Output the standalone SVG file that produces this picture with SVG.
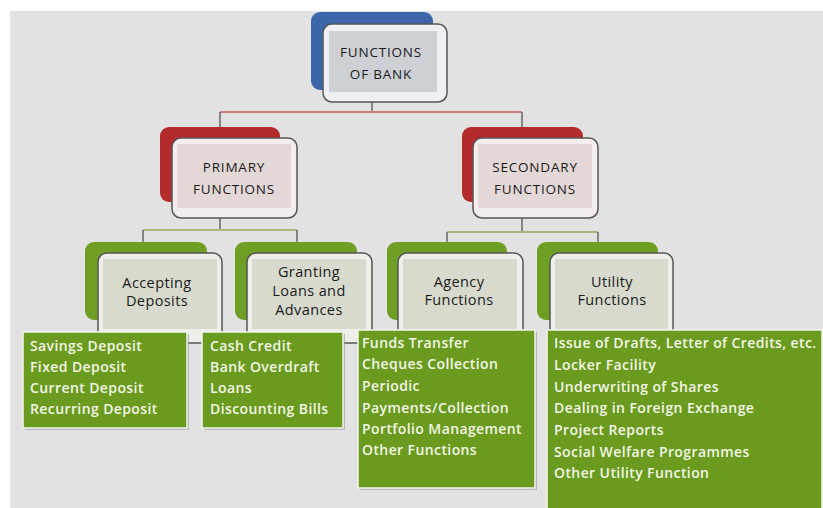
<svg xmlns="http://www.w3.org/2000/svg" width="823" height="508" viewBox="0 0 823 508">
<defs>
<style>
.bg{fill:#e2e2e2}
.lbl{font-family:"Open Sans","Liberation Sans",sans-serif;font-size:14.5px;fill:#1a1a1a;text-anchor:middle;letter-spacing:0.4px}
.cap{font-family:"Open Sans","Liberation Sans",sans-serif;font-size:13.5px;fill:#1a1a1a;text-anchor:middle;letter-spacing:0.8px}
.item{font-family:"Open Sans","Liberation Sans",sans-serif;font-size:14px;font-weight:600;fill:#f3f6e6;letter-spacing:0.4px}
.frame{stroke:#555;stroke-width:1.5}
.tbl{fill:#6a9a1e;stroke:#f4f4f0;stroke-width:1.5}
.tshadow{fill:#9a9a9a;opacity:0.6}
.red-line{stroke:#c98080;stroke-width:2;fill:none}
.grn-line{stroke:#a7b97a;stroke-width:2;fill:none}
.tick{stroke:#555;stroke-width:1.3;fill:none}
</style>
</defs>
<rect x="0" y="0" width="823" height="508" fill="#ffffff"/>
<rect class="bg" x="10" y="11" width="813" height="497"/>

<g id="connectors">
<path class="tick" d="M372,102 V112"/>
<path class="red-line" d="M220,112 H522"/>
<path class="tick" d="M220,112 V127 M522,112 V127"/>
<path class="tick" d="M220,218 V230 M522,218 V232"/>
<path class="grn-line" d="M143,230 H297 M447,232 H598"/>
<path class="tick" d="M143,230 V242 M297,230 V242 M447,232 V242 M598,232 V242"/>
</g>

<g id="node-bank">
<rect x="311" y="12" width="122" height="78" rx="9" fill="#3d66aa"/>
<rect class="frame" x="323" y="24" width="124" height="78" rx="9" fill="#eef0f3"/>
<rect x="329" y="31" width="108" height="61" fill="#cdd1d6"/>
<text class="cap" x="381" y="57">FUNCTIONS</text>
<text class="cap" x="381" y="79">OF BANK</text>
</g>

<g id="node-primary">
<rect x="160" y="127" width="120" height="75" rx="9" fill="#b42b2b"/>
<rect class="frame" x="172" y="138" width="125" height="80" rx="9" fill="#f4eded"/>
<rect x="177" y="144" width="114" height="64" fill="#e4d7d7"/>
<text class="cap" x="234" y="172">PRIMARY</text>
<text class="cap" x="234" y="194">FUNCTIONS</text>
</g>

<g id="node-secondary">
<rect x="462" y="127" width="121" height="75" rx="9" fill="#b42b2b"/>
<rect class="frame" x="473" y="138" width="125" height="80" rx="9" fill="#f4eded"/>
<rect x="478" y="144" width="114" height="64" fill="#e4d7d7"/>
<text class="cap" x="535" y="172">SECONDARY</text>
<text class="cap" x="535" y="194">FUNCTIONS</text>
</g>

<g id="node-accepting">
<rect x="85" y="242" width="122" height="78" rx="9" fill="#6f9e24"/>
<rect class="frame" x="98" y="253" width="124" height="90" rx="9" fill="#eeefe8"/>
<rect x="103" y="259" width="114" height="70" fill="#d8dacd"/>
<text class="lbl" x="157" y="288">Accepting</text>
<text class="lbl" x="157" y="306">Deposits</text>
</g>

<g id="node-granting">
<rect x="235" y="242" width="122" height="78" rx="9" fill="#6f9e24"/>
<rect class="frame" x="247" y="253" width="125" height="90" rx="9" fill="#eeefe8"/>
<rect x="252" y="259" width="114" height="70" fill="#d8dacd"/>
<text class="lbl" x="309" y="277">Granting</text>
<text class="lbl" x="309" y="296">Loans and</text>
<text class="lbl" x="309" y="315">Advances</text>
</g>

<g id="node-agency">
<rect x="387" y="242" width="120" height="78" rx="9" fill="#6f9e24"/>
<rect class="frame" x="398" y="253" width="125" height="90" rx="9" fill="#eeefe8"/>
<rect x="403" y="259" width="114" height="70" fill="#d8dacd"/>
<text class="lbl" x="459" y="287">Agency</text>
<text class="lbl" x="459" y="305">Functions</text>
</g>

<g id="node-utility">
<rect x="537" y="242" width="121" height="78" rx="9" fill="#6f9e24"/>
<rect class="frame" x="550" y="253" width="123" height="90" rx="9" fill="#eeefe8"/>
<rect x="555" y="259" width="113" height="70" fill="#d8dacd"/>
<text class="lbl" x="612" y="287">Utility</text>
<text class="lbl" x="612" y="305">Functions</text>
</g>

<g id="list-deposits">
<rect class="tshadow" x="25" y="334" width="164" height="96"/>
<rect class="tbl" x="23" y="332" width="164" height="96"/>
<text class="item" x="30" y="351">Savings Deposit</text>
<text class="item" x="30" y="372">Fixed Deposit</text>
<text class="item" x="30" y="393">Current Deposit</text>
<text class="item" x="30" y="414">Recurring Deposit</text>
</g>

<g id="list-loans">
<rect class="tshadow" x="204" y="334" width="141" height="96"/>
<rect class="tbl" x="202" y="332" width="141" height="96"/>
<text class="item" x="210" y="351">Cash Credit</text>
<text class="item" x="210" y="372">Bank Overdraft</text>
<text class="item" x="210" y="393">Loans</text>
<text class="item" x="210" y="414">Discounting Bills</text>
</g>

<g id="list-agency">
<rect class="tshadow" x="360" y="332" width="177" height="158"/>
<rect class="tbl" x="358" y="330" width="177" height="158"/>
<text class="item" x="362" y="348">Funds Transfer</text>
<text class="item" x="362" y="369">Cheques Collection</text>
<text class="item" x="362" y="391">Periodic</text>
<text class="item" x="362" y="413">Payments/Collection</text>
<text class="item" x="362" y="434">Portfolio Management</text>
<text class="item" x="362" y="455">Other Functions</text>
</g>

<g id="list-utility">
<rect class="tbl" x="547" y="330" width="275" height="180"/>
<text class="item" x="554" y="348">Issue of Drafts, Letter of Credits, etc.</text>
<text class="item" x="554" y="370">Locker Facility</text>
<text class="item" x="554" y="392">Underwriting of Shares</text>
<text class="item" x="554" y="413">Dealing in Foreign Exchange</text>
<text class="item" x="554" y="435">Project Reports</text>
<text class="item" x="554" y="457">Social Welfare Programmes</text>
<text class="item" x="554" y="478">Other Utility Function</text>
</g>
</svg>
